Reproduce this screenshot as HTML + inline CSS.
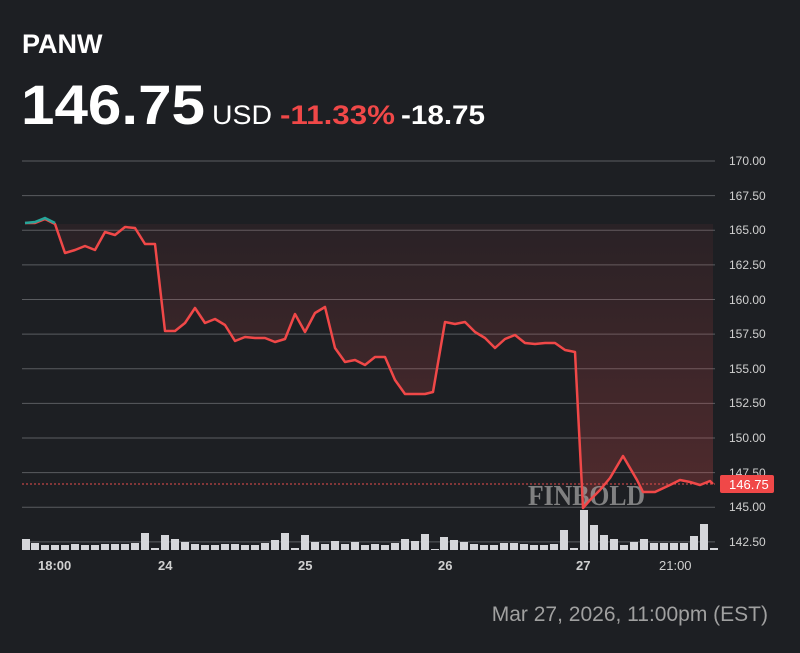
<!DOCTYPE html><html><head><style>
body{margin:0;background:#1d1f23;width:800px;height:653px;overflow:hidden;font-family:"Liberation Sans",sans-serif;color:#fff}
</style></head><body>
<svg width="800" height="653" style="position:absolute;left:0;top:0">
<defs><linearGradient id="g" x1="0" y1="0" x2="0" y2="1"><stop offset="0" stop-color="#e84c4c" stop-opacity="0.06"/><stop offset="1" stop-color="#e84c4c" stop-opacity="0.26"/></linearGradient></defs>
<text x="22" y="53" font-size="27" font-weight="bold" fill="#fff">PANW</text>
<text x="21" y="124" font-size="56" font-weight="bold" fill="#fff" textLength="184" lengthAdjust="spacingAndGlyphs">146.75</text>
<text x="212" y="124" font-size="27" fill="#fff" textLength="60" lengthAdjust="spacingAndGlyphs">USD</text>
<text x="280" y="124" font-size="27" font-weight="bold" fill="#f04848" textLength="115" lengthAdjust="spacingAndGlyphs">-11.33%</text>
<text x="401" y="124" font-size="27" font-weight="bold" fill="#fff" textLength="84" lengthAdjust="spacingAndGlyphs">-18.75</text>
<g stroke="#5a5c60" stroke-width="1">
<line x1="22" x2="715" y1="161" y2="161"/><line x1="22" x2="715" y1="195.6" y2="195.6"/><line x1="22" x2="715" y1="230.3" y2="230.3"/><line x1="22" x2="715" y1="264.9" y2="264.9"/><line x1="22" x2="715" y1="299.5" y2="299.5"/><line x1="22" x2="715" y1="334.1" y2="334.1"/><line x1="22" x2="715" y1="368.8" y2="368.8"/><line x1="22" x2="715" y1="403.4" y2="403.4"/><line x1="22" x2="715" y1="438" y2="438"/><line x1="22" x2="715" y1="472.6" y2="472.6"/><line x1="22" x2="715" y1="507.3" y2="507.3"/><line x1="22" x2="715" y1="541.9" y2="541.9"/>
</g>
<g font-size="12" fill="#d0d0d0">
<text x="729" y="165">170.00</text><text x="729" y="200">167.50</text><text x="729" y="234">165.00</text><text x="729" y="269">162.50</text><text x="729" y="304">160.00</text><text x="729" y="338">157.50</text><text x="729" y="373">155.00</text><text x="729" y="407">152.50</text><text x="729" y="442">150.00</text><text x="729" y="477">147.50</text><text x="729" y="511">145.00</text><text x="729" y="546">142.50</text>
</g>
<polygon fill="url(#g)" points="55,224 65,253 75,250 85,246 95,250 105,232 115,235 125,227 135,228 145,244 155,244 165,331 175,331 185,323 195,308 205,323 215,319 225,325 235,341 245,337 255,338 265,338 275,342 285,339 295,314 305,332 315,313 325,307 335,348 345,362 355,360 365,365 375,357 385,357 395,380 405,394 415,394 425,394 433,392 445,322 455,324 465,322 475,332 485,338 495,348 505,339 515,335 525,343 535,344 545,343 555,343 565,350 575,352 583,508 590,500 600,490 610,478 623,456 637,480 643,492 655,492 670,485 680,480 690,482 700,485 710,481 713,484 713,224"/>
<g fill="#d5d6da">
<rect x="22" y="539" width="8" height="11"/><rect x="31" y="543" width="8" height="7"/><rect x="41" y="545" width="8" height="5"/><rect x="51" y="545" width="8" height="5"/><rect x="61" y="545" width="8" height="5"/><rect x="71" y="544" width="8" height="6"/><rect x="81" y="545" width="8" height="5"/><rect x="91" y="545" width="8" height="5"/><rect x="101" y="544" width="8" height="6"/><rect x="111" y="544" width="8" height="6"/><rect x="121" y="544" width="8" height="6"/><rect x="131" y="543" width="8" height="7"/><rect x="141" y="533" width="8" height="17"/><rect x="151" y="548" width="8" height="2"/><rect x="161" y="535" width="8" height="15"/><rect x="171" y="539" width="8" height="11"/><rect x="181" y="542" width="8" height="8"/><rect x="191" y="544" width="8" height="6"/><rect x="201" y="545" width="8" height="5"/><rect x="211" y="545" width="8" height="5"/><rect x="221" y="544" width="8" height="6"/><rect x="231" y="544" width="8" height="6"/><rect x="241" y="545" width="8" height="5"/><rect x="251" y="545" width="8" height="5"/><rect x="261" y="543" width="8" height="7"/><rect x="271" y="540" width="8" height="10"/><rect x="281" y="533" width="8" height="17"/><rect x="291" y="548" width="8" height="2"/><rect x="301" y="535" width="8" height="15"/><rect x="311" y="542" width="8" height="8"/><rect x="321" y="544" width="8" height="6"/><rect x="331" y="541" width="8" height="9"/><rect x="341" y="544" width="8" height="6"/><rect x="351" y="542" width="8" height="8"/><rect x="361" y="545" width="8" height="5"/><rect x="371" y="544" width="8" height="6"/><rect x="381" y="545" width="8" height="5"/><rect x="391" y="543" width="8" height="7"/><rect x="401" y="539" width="8" height="11"/><rect x="411" y="541" width="8" height="9"/><rect x="421" y="534" width="8" height="16"/><rect x="431" y="549" width="8" height="1"/><rect x="440" y="537" width="8" height="13"/><rect x="450" y="540" width="8" height="10"/><rect x="460" y="542" width="8" height="8"/><rect x="470" y="544" width="8" height="6"/><rect x="480" y="545" width="8" height="5"/><rect x="490" y="545" width="8" height="5"/><rect x="500" y="543" width="8" height="7"/><rect x="510" y="543" width="8" height="7"/><rect x="520" y="544" width="8" height="6"/><rect x="530" y="545" width="8" height="5"/><rect x="540" y="545" width="8" height="5"/><rect x="550" y="544" width="8" height="6"/><rect x="560" y="530" width="8" height="20"/><rect x="570" y="548" width="8" height="2"/><rect x="580" y="510" width="8" height="40"/><rect x="590" y="525" width="8" height="25"/><rect x="600" y="535" width="8" height="15"/><rect x="610" y="539" width="8" height="11"/><rect x="620" y="545" width="8" height="5"/><rect x="630" y="542" width="8" height="8"/><rect x="640" y="539" width="8" height="11"/><rect x="650" y="543" width="8" height="7"/><rect x="660" y="543" width="8" height="7"/><rect x="670" y="543" width="8" height="7"/><rect x="680" y="543" width="8" height="7"/><rect x="690" y="536" width="8" height="14"/><rect x="700" y="524" width="8" height="26"/><rect x="710" y="548" width="8" height="2"/>
</g>
<text x="528" y="505" font-family="Liberation Serif,serif" font-size="29" font-weight="bold" fill="#aaa" opacity="0.7" textLength="117" lengthAdjust="spacingAndGlyphs">FINBOLD</text>
<line x1="22" x2="715" y1="484" y2="484" stroke="#e84c4c" stroke-dasharray="2,2" stroke-width="1"/>
<polyline fill="none" stroke="#f04848" stroke-width="2.5" stroke-linejoin="round" points="25,223 35,223 45,219 55,224 65,253 75,250 85,246 95,250 105,232 115,235 125,227 135,228 145,244 155,244 165,331 175,331 185,323 195,308 205,323 215,319 225,325 235,341 245,337 255,338 265,338 275,342 285,339 295,314 305,332 315,313 325,307 335,348 345,362 355,360 365,365 375,357 385,357 395,380 405,394 415,394 425,394 433,392 445,322 455,324 465,322 475,332 485,338 495,348 505,339 515,335 525,343 535,344 545,343 555,343 565,350 575,352 583,508 590,500 600,490 610,478 623,456 637,480 643,492 655,492 670,485 680,480 690,482 700,485 710,481 713,484"/>
<polyline fill="none" stroke="#26a69a" stroke-width="2.5" points="25,223 35,222 45,218 55,223"/>
<rect x="720" y="475" width="54" height="18" rx="2" fill="#f04848"/>
<text x="729" y="489" font-size="13" fill="#fff">146.75</text>
<g font-size="13" fill="#d0d0d0" font-weight="bold">
<text x="38" y="570">18:00</text><text x="158" y="570">24</text><text x="298" y="570">25</text><text x="438" y="570">26</text><text x="576" y="570">27</text><text x="659" y="570" font-weight="normal">21:00</text>
</g>
<text x="768" y="621" font-size="21" fill="#a0a0a0" text-anchor="end">Mar 27, 2026, 11:00pm (EST)</text>
</svg>
</body></html>
